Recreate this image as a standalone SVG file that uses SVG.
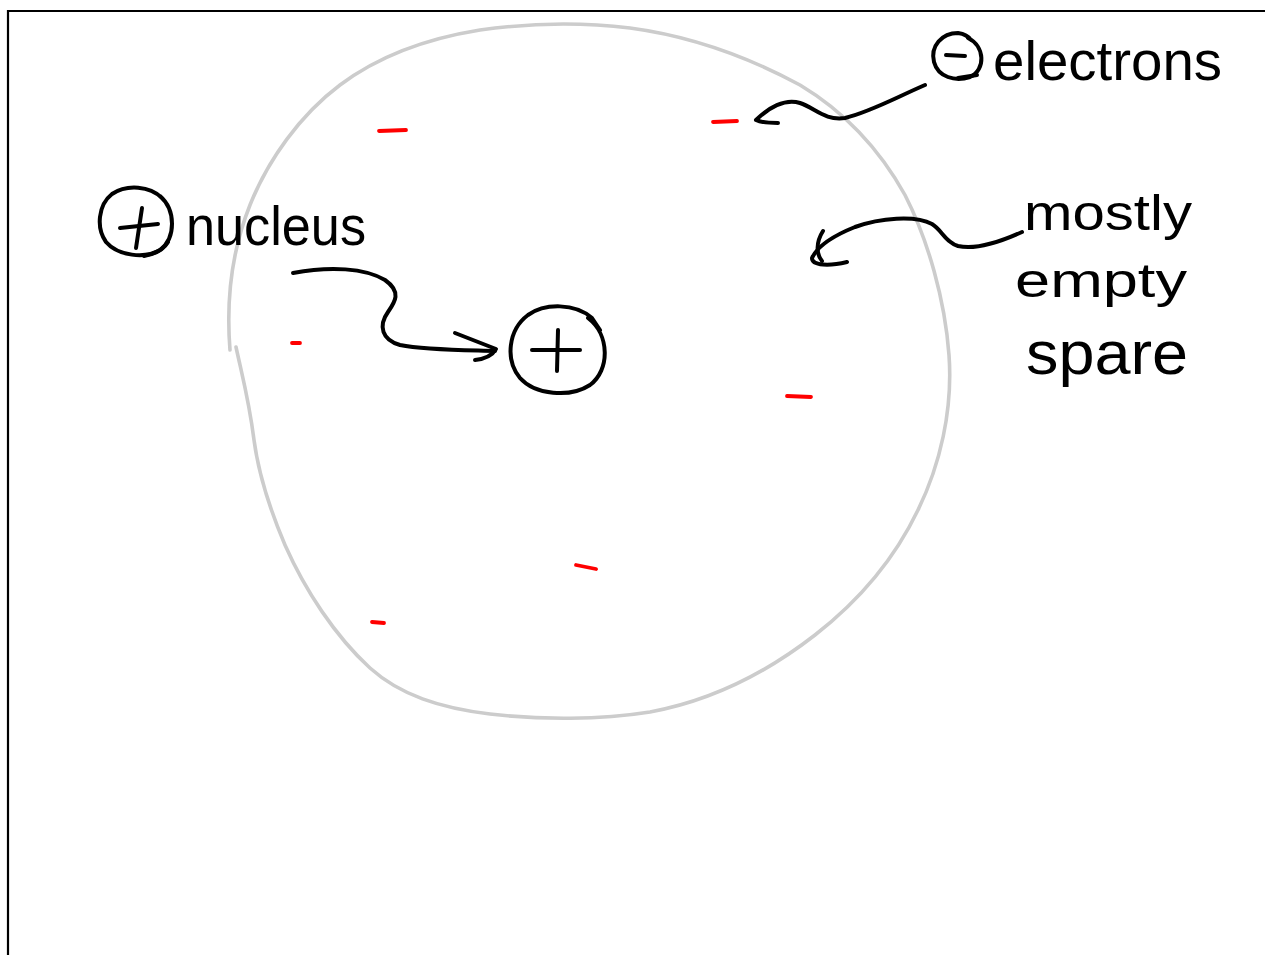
<svg xmlns="http://www.w3.org/2000/svg" width="1265" height="955" viewBox="0 0 1265 955">
  <style>
    .ink { fill: none; stroke: #000; stroke-width: 4; stroke-linecap: round; stroke-linejoin: round; }
    .shell { fill: none; stroke: #cccccc; stroke-width: 3.6; stroke-linecap: round; stroke-linejoin: round; }
    .electron { fill: none; stroke: #ff0000; stroke-width: 3.8; stroke-linecap: round; }
    .frame { fill: none; stroke: #000; stroke-width: 2.2; }
    .label { font-family: "Liberation Sans", Arial, sans-serif; fill: #000; }
  </style>

  <rect width="1265" height="955" fill="#fff"/>

  <!-- page frame -->
  <path class="frame" d="M8,955 V11 H1265"/>

  <!-- atom boundary -->
  <g id="atom-shell">
    <path class="shell" d="M230,350 C226,300 232,250 250,205 C268,160 300,115 340,85 C380,55 430,38 480,30 C530,23 580,22 630,28 C690,36 750,58 800,85 C845,112 880,150 905,195 C928,240 945,300 949,355 C953,410 940,465 918,510 C895,558 860,600 815,635 C770,670 715,700 650,712 C600,720 540,720 490,714 C440,708 400,695 370,668 C335,636 305,590 285,545 C268,505 258,470 254,440 C249,400 242,375 236,347"/>
  </g>

  <!-- electrons -->
  <g id="electrons">
    <path class="electron" d="M379,131 L406,130"/>
    <path class="electron" d="M713,122 L737,121"/>
    <path class="electron" d="M292,343 L300,343"/>
    <path class="electron" d="M787,396 L811,397"/>
    <path class="electron" d="M576,565 L596,569"/>
    <path class="electron" d="M372,622 L384,623"/>
  </g>

  <!-- nucleus -->
  <g id="nucleus">
    <path class="ink" d="M588,318 C610,335 610,370 590,385 C570,398 535,395 520,378 C505,360 508,330 528,315 C545,303 575,303 592,318 L600,330"/>
    <path class="ink" d="M532,350 L580,350"/>
    <path class="ink" d="M558,330 L557,371"/>
  </g>

  <!-- labels -->
  <g id="label-nucleus">
    <path class="ink" d="M160,196 C176,210 176,238 160,250 C145,259 118,256 106,242 C96,228 98,205 112,194 C127,184 150,186 162,198"/>
    <path class="ink" d="M120,228 L158,224"/>
    <path class="ink" d="M142,208 L136,248"/>
    <path class="ink" d="M144,256 C155,254 164,249 168,242"/>
    <text class="label" x="186" y="245" font-size="56" textLength="180" lengthAdjust="spacingAndGlyphs">nucleus</text>
  </g>

  <g id="label-electrons">
    <path class="ink" d="M968,38 C985,46 986,70 970,77 C955,82 938,77 934,62 C930,46 942,33 958,33 C965,34 969,37 971,40"/>
    <path class="ink" d="M946,55 L965,56"/>
    <path class="ink" d="M958,78 L977,75"/>
    <text class="label" x="993" y="80" font-size="55" textLength="229" lengthAdjust="spacingAndGlyphs">electrons</text>
  </g>

  <g id="label-empty-space">
    <text class="label" x="1024" y="230" font-size="50" textLength="168" lengthAdjust="spacingAndGlyphs">mostly</text>
    <text class="label" x="1015" y="297" font-size="48" textLength="172" lengthAdjust="spacingAndGlyphs">empty</text>
    <text class="label" x="1026" y="374" font-size="62" textLength="162" lengthAdjust="spacingAndGlyphs">spare</text>
  </g>

  <!-- connectors -->
  <g id="connectors">
    <path class="ink" d="M293,273 C330,266 365,268 385,280 C402,292 395,302 388,312 C378,326 382,340 400,345 C425,350 460,350 495,351"/>
    <path class="ink" d="M455,333 L496,349 C492,356 484,359 475,360"/>

    <path class="ink" d="M925,85 C895,98 870,112 845,118 C825,121 815,108 800,103 C785,98 768,108 756,120 C762,123 770,123 778,123"/>

    <path class="ink" d="M1022,232 C1000,242 975,250 958,246 C945,242 942,230 932,224 C915,215 880,218 855,227 C835,235 818,245 812,258 C812,266 830,266 847,262"/>
    <path class="ink" d="M823,231 C816,242 816,254 822,261"/>
  </g>
</svg>
